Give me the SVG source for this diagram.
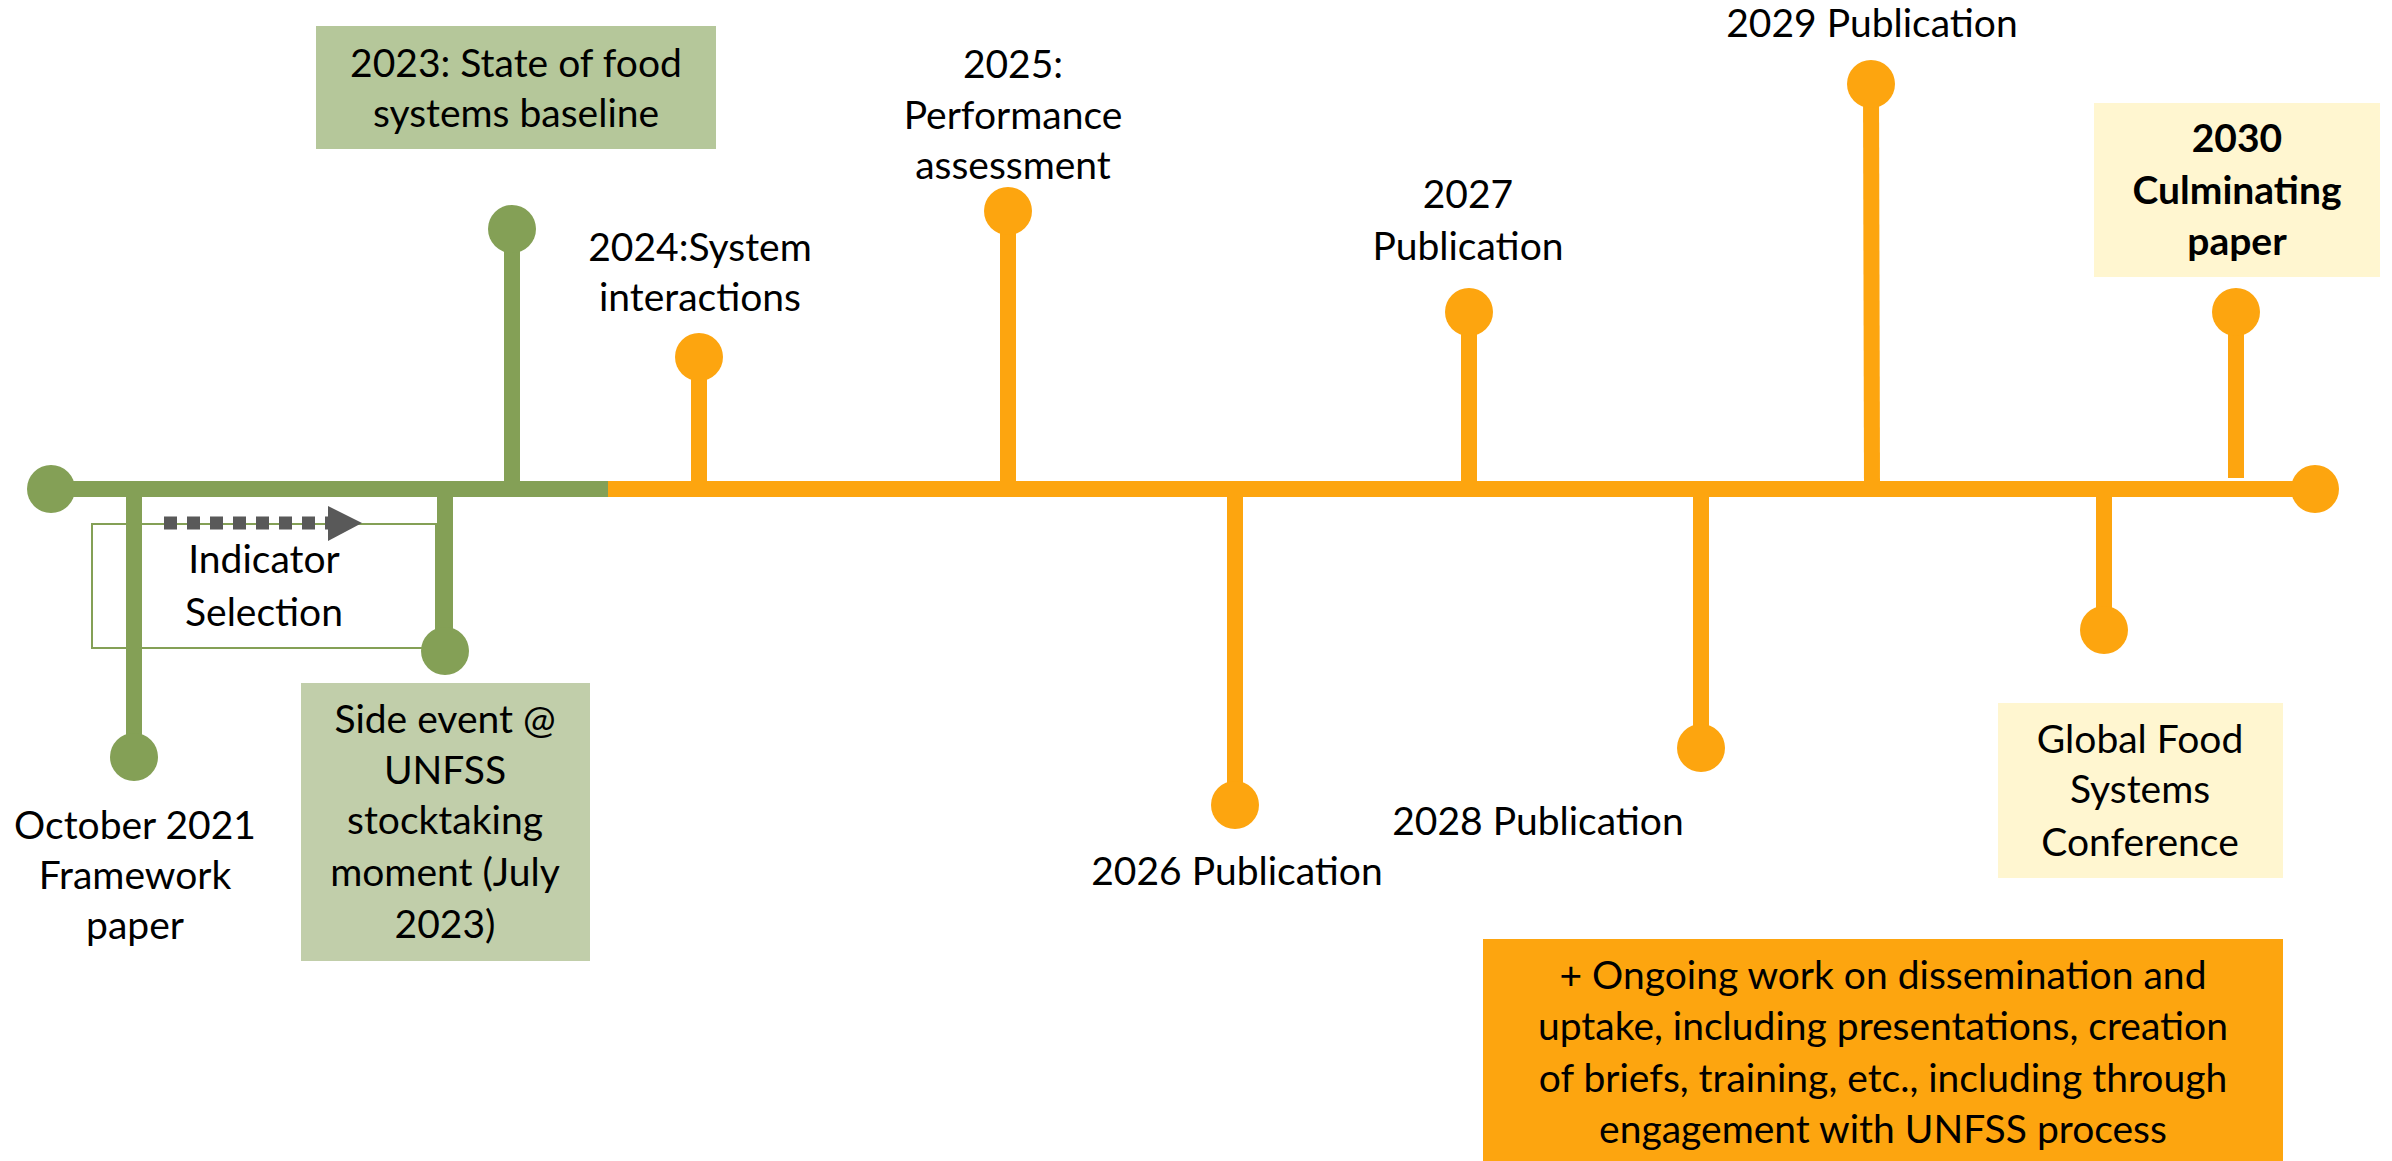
<svg xmlns="http://www.w3.org/2000/svg" width="2392" height="1161" viewBox="0 0 2392 1161">
<style>
  text { font-family: Lato, "Liberation Sans", sans-serif; font-size: 39px; fill: #000; text-anchor: middle; }
  .b { font-weight: bold; }
  .g { stroke: #84A056; stroke-width: 16; fill: none; }
  .o { stroke: #FDA50F; stroke-width: 16; fill: none; }
  .gd { fill: #84A056; }
  .od { fill: #FDA50F; }
</style>
<rect width="2392" height="1161" fill="#fff"/>

<g id="indicator-selection">
  <rect x="92" y="524" width="344" height="124" fill="none" stroke="#84A056" stroke-width="2"/>
  <text x="264" y="573">Indicator</text>
  <text x="264" y="626">Selection</text>
</g>

<g id="connectors">
  <line class="g" x1="51" y1="489" x2="608" y2="489"/>
  <line class="o" x1="608" y1="489" x2="2315" y2="489"/>
  <line class="g" x1="134" y1="489" x2="134" y2="757"/>
  <line class="g" x1="512" y1="489" x2="512" y2="229"/>
  <line class="g" x1="445" y1="489" x2="445" y2="651"/>
  <line class="o" x1="699" y1="489" x2="699" y2="357"/>
  <line class="o" x1="1008" y1="489" x2="1008" y2="211"/>
  <line class="o" x1="1235" y1="489" x2="1235" y2="805"/>
  <line class="o" x1="1469" y1="489" x2="1469" y2="312"/>
  <line class="o" x1="1701" y1="489" x2="1701" y2="748"/>
  <line class="o" x1="1872" y1="489" x2="1871" y2="84"/>
  <line class="o" x1="2104" y1="489" x2="2104" y2="630"/>
  <line class="o" x1="2236" y1="478" x2="2236" y2="312"/>
  <line x1="164" y1="523" x2="328" y2="523" stroke="#595959" stroke-width="13" stroke-dasharray="13 10"/>
  <polygon points="328,506 362,523 328,541" fill="#595959"/>
</g>

<g id="start">
  <circle class="gd" cx="51" cy="489" r="24"/>
</g>
<g id="end">
  <circle class="od" cx="2315" cy="489" r="24"/>
</g>

<g id="oct-2021">
  <circle class="gd" cx="134" cy="757" r="24"/>
  <text x="135" y="839">October 2021</text>
  <text x="135" y="889">Framework</text>
  <text x="135" y="939">paper</text>
</g>

<g id="y2023">
  <circle class="gd" cx="512" cy="229" r="24"/>
  <rect x="316" y="26" width="400" height="123" fill="#B5C79A"/>
  <text x="516" y="77">2023: State of food</text>
  <text x="516" y="127">systems baseline</text>
</g>

<g id="side-event">
  <circle class="gd" cx="445" cy="651" r="24"/>
  <rect x="301" y="683" width="289" height="278" fill="#C1CEAA"/>
  <text x="445" y="733">Side event @</text>
  <text x="445" y="784">UNFSS</text>
  <text x="445" y="834">stocktaking</text>
  <text x="445" y="886">moment (July</text>
  <text x="445" y="938">2023)</text>
</g>

<g id="y2024">
  <circle class="od" cx="699" cy="357" r="24"/>
  <text x="700" y="261">2024:System</text>
  <text x="700" y="311">interactions</text>
</g>

<g id="y2025">
  <circle class="od" cx="1008" cy="211" r="24"/>
  <text x="1013" y="78">2025:</text>
  <text x="1013" y="129">Performance</text>
  <text x="1013" y="179">assessment</text>
</g>

<g id="y2026">
  <circle class="od" cx="1235" cy="805" r="24"/>
  <text x="1237" y="885">2026 Publication</text>
</g>

<g id="y2027">
  <circle class="od" cx="1469" cy="312" r="24"/>
  <text x="1468" y="208">2027</text>
  <text x="1468" y="260">Publication</text>
</g>

<g id="y2028">
  <circle class="od" cx="1701" cy="748" r="24"/>
  <text x="1538" y="835">2028 Publication</text>
</g>

<g id="y2029">
  <circle class="od" cx="1871" cy="84" r="24"/>
  <text x="1872" y="37">2029 Publication</text>
</g>

<g id="gfs">
  <circle class="od" cx="2104" cy="630" r="24"/>
  <rect x="1998" y="703" width="285" height="175" fill="#FFF6D0"/>
  <text x="2140" y="753">Global Food</text>
  <text x="2140" y="803">Systems</text>
  <text x="2140" y="856">Conference</text>
</g>

<g id="y2030">
  <circle class="od" cx="2236" cy="312" r="24"/>
  <rect x="2094" y="103" width="286" height="174" fill="#FFF6D0"/>
  <text class="b" x="2237" y="152">2030</text>
  <text class="b" x="2237" y="204">Culminating</text>
  <text class="b" x="2237" y="255">paper</text>
</g>

<g id="ongoing">
  <rect x="1483" y="939" width="800" height="222" fill="#FDA50F"/>
  <text x="1883" y="989">+ Ongoing work on dissemination and</text>
  <text x="1883" y="1040">uptake, including presentations, creation</text>
  <text x="1883" y="1092">of briefs, training, etc., including through</text>
  <text x="1883" y="1143">engagement with UNFSS process</text>
</g>
</svg>
